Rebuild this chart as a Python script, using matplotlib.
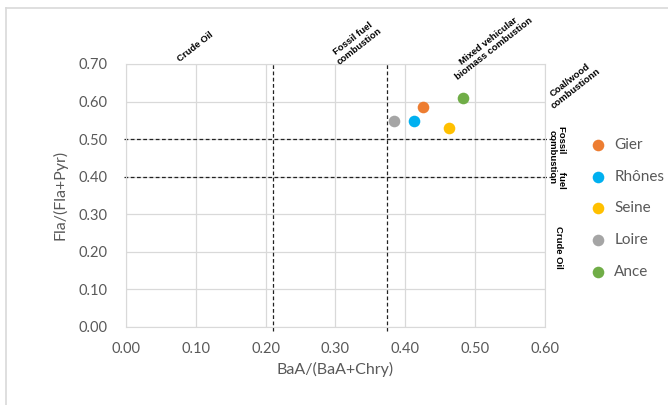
import matplotlib
matplotlib.use("Agg")
import matplotlib.pyplot as plt
from matplotlib.lines import Line2D

# sites and their ratios
sites = ["Gier", "Rhônes", "Seine", "Loire", "Ance"]
baa_chry = [0.426, 0.413, 0.463, 0.384, 0.483]
fla_pyr = [0.585, 0.549, 0.530, 0.547, 0.610]
colors = ["#ED7D31", "#00B0F0", "#FFC000", "#A5A5A5", "#70AD47"]

# source thresholds
x_cuts = [0.21, 0.374]
y_cuts = [0.40, 0.50]

x_ticks = [0.0, 0.1, 0.2, 0.3, 0.4, 0.5, 0.6]
y_ticks = [0.0, 0.1, 0.2, 0.3, 0.4, 0.5, 0.6, 0.7]

txt = "#595959"
grid = "#D9D9D9"

fig = plt.figure(figsize=(6.68, 4.05), dpi=100)
ax = fig.add_axes([0.1886, 0.1933, 0.6272, 0.6487])

for c in x_cuts:
    ax.plot([c, c], [-0.012, 0.70], ls=(0, (3, 2)), color="#222222", lw=0.9, clip_on=False, zorder=2)
for c in y_cuts:
    ax.plot([-0.003, 0.612], [c, c], ls=(0, (3, 2)), color="#222222", lw=0.9, clip_on=False, zorder=2)

for x, y, c, s in zip(baa_chry, fla_pyr, colors, sites):
    ax.scatter(x, y, s=70, color=c, label=s, zorder=3, linewidths=0)

ax.set_xlim(0, 0.6)
ax.set_ylim(0, 0.7)
ax.set_xticks(x_ticks)
ax.set_yticks(y_ticks)
ax.set_xticklabels(["%.2f" % v for v in x_ticks])
ax.set_yticklabels(["%.2f" % v for v in y_ticks])
ax.tick_params(length=0, labelsize=10.5, labelcolor=txt)
ax.tick_params(axis="y", pad=13)
ax.tick_params(axis="x", pad=11)
for lab in ax.get_xticklabels() + ax.get_yticklabels():
    lab.set_family("Lato")
ax.grid(True, color=grid, lw=0.9)
ax.set_axisbelow(True)
for sp in ax.spines.values():
    sp.set_color(grid)

ax.set_xlabel("BaA/(BaA+Chry)", fontsize=11.5, color=txt, family="Lato", labelpad=4)
ax.set_ylabel("Fla/(Fla+Pyr)", fontsize=11.5, color=txt, family="Lato", labelpad=8)

# source region labels
kw = dict(fontsize=6.8, fontweight="bold", family="Liberation Sans", ha="center",
          va="center", clip_on=False, linespacing=1.1)
ax.text(0.099, 0.745, "Crude Oil", rotation=38, **kw)
ax.text(0.330, 0.757, "Fossil fuel\ncombustion", rotation=38, **kw)
ax.text(0.523, 0.752, "Mixed vehicular\nbiomass combustion", rotation=38, **kw)
ax.text(0.640, 0.646, "Coal/wood\ncombustionn", rotation=38, **kw)
ax.text(0.617, 0.452, "Fossil       fuel\ncombustion", rotation=270, **kw)
ax.text(0.620, 0.212, "Crude Oil", rotation=270, **kw)

leg = ax.legend(loc="center left", bbox_to_anchor=(1.058, 0.45), frameon=False,
                handletextpad=0.05, labelspacing=1.15, markerscale=1.0,
                prop={"family": "Lato", "size": 11})
for t in leg.get_texts():
    t.set_color(txt)

# thin frame around chart area (left and top only)
fig.add_artist(Line2D([0.0097, 0.0097], [0.0, 0.980], color=grid, lw=1.2))
fig.add_artist(Line2D([0.0097, 1.0], [0.980, 0.980], color=grid, lw=1.2))

fig.savefig("out.png", dpi=100)
